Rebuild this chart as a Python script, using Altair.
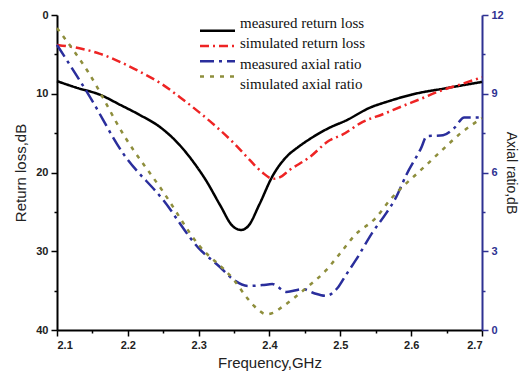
import altair as alt
import pandas as pd

# Measured return loss (dB)
freq_mrl = [2.10, 2.13, 2.16, 2.189, 2.217, 2.245, 2.273, 2.292, 2.311, 2.33, 2.348,
            2.36, 2.37, 2.386, 2.404, 2.424, 2.44, 2.456, 2.485, 2.508, 2.541,
            2.57, 2.601, 2.649, 2.70]
val_mrl = [8.4, 9.3, 10.1, 11.4, 12.7, 14.2, 16.5, 18.6, 21.1, 24.1, 26.8,
           27.3, 26.8, 24.0, 20.5, 18.0, 16.8, 15.8, 14.3, 13.4, 11.8,
           10.9, 10.1, 9.3, 8.5]

# Simulated return loss (dB)
freq_srl = [2.10, 2.13, 2.16, 2.19, 2.217, 2.245, 2.273, 2.30, 2.325, 2.35, 2.372, 2.39,
            2.405, 2.415, 2.428, 2.456, 2.485, 2.503, 2.531, 2.56, 2.587, 2.615, 2.639,
            2.67, 2.70]
val_srl = [3.8, 4.2, 4.9, 6.0, 7.2, 8.6, 10.4, 12.3, 14.2, 16.3, 18.4, 20.0,
           20.8, 20.6, 19.7, 18.1, 15.9, 15.2, 13.6, 12.6, 11.6, 10.6, 9.7,
           8.8, 7.9]

# Measured axial ratio (dB)
freq_mar = [2.10, 2.146, 2.193, 2.25, 2.30, 2.33, 2.35, 2.37, 2.39, 2.404, 2.424, 2.447,
            2.463, 2.48, 2.496, 2.508, 2.522, 2.545, 2.566, 2.579, 2.593, 2.614, 2.622,
            2.645, 2.661, 2.675, 2.70]
val_mar = [10.86, 8.9, 6.74, 4.95, 3.12, 2.4, 1.9, 1.68, 1.71, 1.75, 1.45, 1.56,
           1.4, 1.3, 1.6, 2.1, 2.67, 3.7, 4.5, 5.07, 5.9, 6.93, 7.38,
           7.42, 7.7, 8.1, 8.1]

# Simulated axial ratio (dB)
freq_sar = [2.10, 2.144, 2.196, 2.25, 2.30, 2.35, 2.369, 2.385, 2.395, 2.405, 2.418, 2.45,
            2.48, 2.50, 2.52, 2.55, 2.57, 2.618, 2.644, 2.67, 2.70]
val_sar = [11.5, 9.83, 7.35, 5.26, 3.24, 1.9, 1.2, 0.75, 0.6, 0.65, 0.88, 1.56,
           2.28, 2.93, 3.6, 4.27, 4.95, 6.2, 6.86, 7.5, 8.07]

SERIES = ["measured return loss", "simulated return loss",
          "measured axial ratio", "simulated axial ratio"]
COLORS = ["#000000", "#ee2424", "#2a2e9c", "#8e8e3c"]
DASHES = [[1, 0], [9, 4, 2, 4], [14, 5, 3, 5], [4, 6]]
WIDTHS = [2.5, 2.5, 3, 3]
AXIS_BLUE = "#2e3192"


def series_frame(name, freqs, values):
    return pd.DataFrame({"freq": freqs, "value": values, "series": name})


rl = pd.concat([series_frame(SERIES[0], freq_mrl, val_mrl),
                series_frame(SERIES[1], freq_srl, val_srl)])
ar = pd.concat([series_frame(SERIES[2], freq_mar, val_mar),
                series_frame(SERIES[3], freq_sar, val_sar)])
legend_rows = pd.DataFrame({"series": SERIES})

color = alt.Color("series:N", scale=alt.Scale(domain=SERIES, range=COLORS), legend=None)
dash = alt.StrokeDash("series:N", scale=alt.Scale(domain=SERIES, range=DASHES), legend=None)
width = alt.StrokeWidth("series:N", scale=alt.Scale(domain=SERIES, range=WIDTHS), legend=None)

x_enc = alt.X(
    "freq:Q",
    scale=alt.Scale(domain=[2.1, 2.7], nice=False, zero=False),
    axis=alt.Axis(
        title="Frequency,GHz",
        values=[2.1, 2.15, 2.2, 2.25, 2.3, 2.35, 2.4, 2.45, 2.5, 2.55, 2.6, 2.65, 2.7],
        labelExpr="round(datum.value*100) % 10 == 0 ? format(datum.value, '.1f') : ''",
        tickSize={"condition": {"test": "round(datum.value*100) % 10 == 0", "value": 6}, "value": 3},
        labelPadding=3,
        titlePadding=5,
    ),
)

rl_lines = alt.Chart(rl).mark_line(interpolate="monotone").encode(
    x=x_enc,
    y=alt.Y(
        "value:Q",
        scale=alt.Scale(domain=[0, 40], reverse=True, nice=False),
        axis=alt.Axis(
            title="Return loss,dB",
            orient="left",
            values=[0, 5, 10, 15, 20, 25, 30, 35, 40],
            labelExpr="datum.value % 10 == 0 ? datum.label : ''",
            tickSize={"condition": {"test": "datum.value % 10 == 0", "value": 6}, "value": 3},
            labelPadding=3,
            titlePadding=7,
        ),
    ),
    color=color,
    strokeDash=dash,
    strokeWidth=width,
    detail="series:N",
)

ar_lines = alt.Chart(ar).mark_line(interpolate="monotone").encode(
    x=x_enc,
    y=alt.Y(
        "value:Q",
        scale=alt.Scale(domain=[0, 12], nice=False),
        axis=alt.Axis(
            title="Axial ratio,dB",
            orient="right",
            values=[0, 1.5, 3, 4.5, 6, 7.5, 9, 10.5, 12],
            labelExpr="datum.value % 3 == 0 ? datum.label : ''",
            tickSize={"condition": {"test": "datum.value % 3 == 0", "value": 6}, "value": 3},
            domainColor=AXIS_BLUE,
            tickColor=AXIS_BLUE,
            labelColor=AXIS_BLUE,
            labelPadding=3,
            titlePadding=0,
            titleFontSize=14,
        ),
    ),
    color=color,
    strokeDash=dash,
    strokeWidth=width,
    detail="series:N",
)

legend_y = alt.Y("series:N", scale=alt.Scale(domain=SERIES, range=[8, 69], padding=0), axis=None)

legend_keys = alt.Chart(legend_rows).mark_rule().encode(
    x=alt.value(143), x2=alt.value(178), y=legend_y,
    color=color, strokeDash=dash, strokeWidth=width,
)

legend_text = alt.Chart(legend_rows).mark_text(
    align="left", baseline="middle", font="Liberation Serif", fontSize=15, color="#111111"
).encode(x=alt.value(183), y=legend_y, text="series:N")

chart = (
    alt.layer(rl_lines, ar_lines, legend_keys, legend_text)
    .resolve_scale(y="independent")
    .properties(
        width=425,
        height=315,
        padding={"left": 57, "top": 15, "right": 37, "bottom": 45},
        autosize=alt.AutoSizeParams(type="none"),
        background="white",
    )
    .configure_view(stroke=None)
    .configure_axis(
        grid=False,
        domainColor="#000000",
        domainWidth=2,
        tickColor="#000000",
        tickWidth=1.5,
        labelFont="Liberation Sans",
        labelFontWeight="bold",
        labelFontSize=11,
        labelColor="#222222",
        titleFont="Liberation Sans",
        titleFontWeight="normal",
        titleFontSize=15,
        titleColor="#222222",
    )
)

chart.save("out.html", embed_options={"renderer": "svg", "actions": False})
